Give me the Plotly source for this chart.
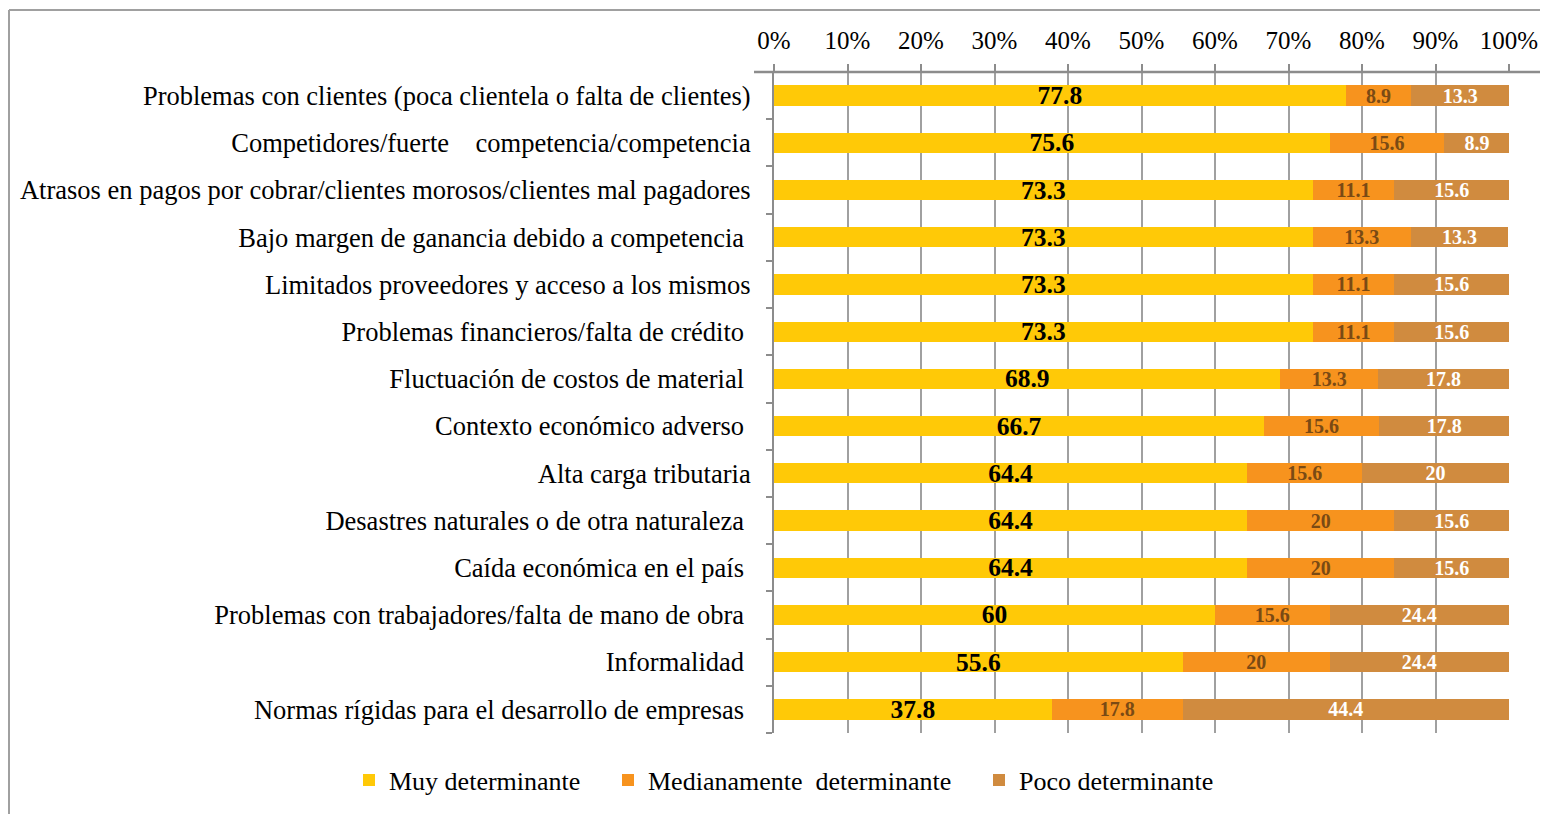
import plotly.graph_objects as go

categories = [
    "Problemas con clientes (poca clientela o falta de clientes)",
    "Competidores/fuerte competencia/competencia",
    "Atrasos en pagos por cobrar/clientes morosos/clientes mal pagadores",
    "Bajo margen de ganancia debido a competencia",
    "Limitados proveedores y acceso a los mismos",
    "Problemas financieros/falta de crédito",
    "Fluctuación de costos de material",
    "Contexto económico adverso",
    "Alta carga tributaria",
    "Desastres naturales o de otra naturaleza",
    "Caída económica en el país",
    "Problemas con trabajadores/falta de mano de obra",
    "Informalidad",
    "Normas rígidas para el desarrollo de empresas",
]
tick_labels = [
    "Problemas con clientes (poca clientela o falta de clientes)",
    "Competidores/fuerte\u00a0\u00a0\u00a0 competencia/competencia",
    "Atrasos en pagos por cobrar/clientes morosos/clientes mal pagadores",
    "Bajo margen de ganancia debido a competencia\u00a0",
    "Limitados proveedores y acceso a los mismos",
    "Problemas financieros/falta de crédito\u00a0",
    "Fluctuación de costos de material\u00a0",
    "Contexto económico adverso\u00a0",
    "Alta carga tributaria",
    "Desastres naturales o de otra naturaleza\u00a0",
    "Caída económica en el país\u00a0",
    "Problemas con trabajadores/falta de mano de obra\u00a0",
    "Informalidad\u00a0",
    "Normas rígidas para el desarrollo de empresas\u00a0",
]
muy = [77.8, 75.6, 73.3, 73.3, 73.3, 73.3, 68.9, 66.7, 64.4, 64.4, 64.4, 60, 55.6, 37.8]
mediana = [8.9, 15.6, 11.1, 13.3, 11.1, 11.1, 13.3, 15.6, 15.6, 20, 20, 15.6, 20, 17.8]
poco = [13.3, 8.9, 15.6, 13.3, 15.6, 15.6, 17.8, 17.8, 20, 15.6, 15.6, 24.4, 24.4, 44.4]
series_names = ["Muy determinante", "Medianamente\u00a0\u00a0determinante", "Poco determinante"]
x_ticks = list(range(0, 101, 10))
x_tick_text = [f"{v}%" for v in x_ticks]

FONT = "Liberation Serif"
colors = ["#FFC907", "#F7931E", "#D08B3F"]
text_colors = ["#000000", "#7A4A14", "#FFFFFF"]
text_sizes = [25.5, 20, 20]

W, H = 1548, 814
OFF = 8  # page body margin offset in the screenshot
L, R, T, B = 774 - OFF, 39 + OFF, 72 - OFF, 81 + OFF
pw, ph = W - L - R, H - T - B


def px_x(p):
    return (p - OFF - L) / pw


def px_y(p):
    return (H - B - (p - OFF)) / ph


fig = go.Figure()
legend_ids = ["legend", "legend2", "legend3"]
for vals, name, col, tcol, tsz, lg in zip([muy, mediana, poco], series_names, colors,
                                          text_colors, text_sizes, legend_ids):
    fig.add_trace(go.Bar(
        y=categories, x=vals, name=name, orientation="h",
        marker=dict(color=col, line=dict(width=0)),
        text=[f"{v:g}" for v in vals], textposition="inside",
        insidetextanchor="middle", textangle=0, constraintext="none",
        insidetextfont=dict(family=FONT, size=tsz, color=tcol, weight="bold"),
        legend=lg, showlegend=True, hoverinfo="skip",
    ))

leg_common = dict(orientation="h", yanchor="middle", xanchor="left",
                  font=dict(family=FONT, size=26, color="#000000"),
                  bgcolor="rgba(0,0,0,0)")
fig.update_layout(
    width=W, height=H,
    margin=dict(l=L, r=R, t=T, b=B, autoexpand=False),
    barmode="stack", bargap=0.57,
    plot_bgcolor="white", paper_bgcolor="white",
    font=dict(family=FONT, color="#000000"),
    showlegend=True,
    legend=dict(x=px_x(341 + OFF), y=px_y(780), **leg_common),
    legend2=dict(x=px_x(600 + OFF), y=px_y(780), **leg_common),
    legend3=dict(x=px_x(971 + OFF), y=px_y(780), **leg_common),
    xaxis=dict(
        side="top", range=[0, 100], tickvals=x_ticks, ticktext=x_tick_text,
        showgrid=True, gridcolor="#A0A0A0", gridwidth=2,
        ticks="outside", ticklen=7, tickwidth=2, tickcolor="#8C8C8C",
        tickfont=dict(family=FONT, size=25, color="#000000"),
        ticklabelstandoff=5,
        showline=False, zeroline=False, fixedrange=True,
    ),
    yaxis=dict(
        type="category", categoryorder="array", categoryarray=categories[::-1],
        tickvals=categories, ticktext=tick_labels,
        tickson="boundaries", ticks="outside", ticklen=6, tickwidth=2,
        tickcolor="#8C8C8C", showline=True, linecolor="#8C8C8C", linewidth=2,
        showgrid=False, zeroline=False,
        tickfont=dict(family=FONT, size=26.5, color="#000000"),
        ticklabelstandoff=16, fixedrange=True,
    ),
    shapes=[
        dict(type="line", xref="paper", yref="paper", x0=px_x(754), x1=px_x(1560),
             y0=1, y1=1, line=dict(color="#8C8C8C", width=2.5), layer="above"),
        dict(type="line", xref="paper", yref="paper", x0=px_x(9), x1=px_x(1560),
             y0=px_y(10), y1=px_y(10), line=dict(color="#A0A0A0", width=2)),
        dict(type="line", xref="paper", yref="paper", x0=px_x(9), x1=px_x(9),
             y0=px_y(10), y1=px_y(830), line=dict(color="#A0A0A0", width=2)),
    ],
)
fig.write_html("out.html")
